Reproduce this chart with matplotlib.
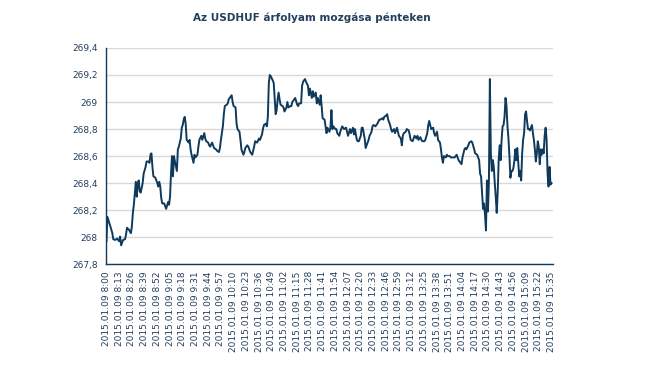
import matplotlib
matplotlib.use("Agg")
import matplotlib.pyplot as plt

# minutes after 8:00 and USDHUF rate
minutes = [0, 1, 4, 6, 7, 9, 11, 13, 14, 15, 17, 19, 20, 21, 23, 25, 26, 27, 28, 29,
           30, 31, 32, 33, 34, 35, 37, 38, 40, 41, 43, 44, 45, 46, 47, 48, 50, 52, 53, 54,
           55, 56, 57, 59, 60, 61, 63, 64, 65, 66, 67, 68, 69, 70, 72, 73, 74, 76, 77, 78,
           79, 80, 81, 82, 84, 85, 86, 87, 89, 90, 91, 93, 94, 95, 97, 98, 100, 101, 102, 104,
           105, 106, 108, 109, 110, 112, 113, 115, 116, 117, 119, 120, 121, 123, 124, 125, 127, 128, 129, 130,
           132, 133, 134, 136, 137, 138, 140, 141, 142, 144, 145, 147, 149, 151, 152, 154, 156, 157, 159, 160,
           161, 163, 164, 165, 166, 167, 168, 170, 171, 172, 173, 174, 175, 176, 177, 178, 180, 181, 182, 184,
           185, 186, 188, 189, 190, 192, 193, 195, 196, 197, 199, 200, 201, 203, 204, 206, 207, 208, 210, 211,
           212, 214, 215, 216, 218, 219, 220, 221, 223, 224, 225, 226, 228, 229, 230, 231, 232, 234, 235, 236,
           238, 239, 241, 242, 243, 245, 246, 247, 249, 250, 252, 253, 254, 256, 257, 258, 260, 261, 262, 264,
           265, 267, 268, 269, 271, 272, 273, 275, 276, 277, 279, 280, 282, 283, 284, 286, 287, 288, 290, 291,
           292, 294, 295, 297, 299, 301, 302, 303, 304, 306, 307, 309, 310, 311, 313, 314, 315, 317, 318, 319,
           321, 322, 323, 325, 326, 328, 329, 330, 331, 332, 334, 335, 336, 338, 339, 341, 342, 343, 344, 345,
           347, 348, 349, 351, 352, 353, 355, 356, 358, 359, 360, 362, 363, 364, 366, 367, 368, 370, 371, 373,
           374, 376, 377, 379, 381, 382, 383, 384, 385, 386, 387, 388, 389, 390, 391, 392, 393, 394, 395, 396,
           397, 398, 399, 400, 401, 402, 403, 404, 405, 406, 407, 408, 409, 410, 411, 412, 413, 414, 415, 416,
           417, 418, 419, 420, 421, 422, 423, 424, 425, 426, 427, 428, 429, 430, 431, 432, 433, 434, 435, 436,
           437, 438, 439, 440, 441, 442, 443, 444, 445, 446, 447, 448, 449, 450, 451, 452, 453, 454, 455]
rate = [267.97, 268.15, 268.08, 268.03, 267.985, 267.98, 267.99, 267.97, 268.005, 267.94,
        267.98, 267.985, 268.02, 268.07, 268.055, 268.03, 268.08, 268.18, 268.24, 268.33,
        268.41, 268.30, 268.40, 268.42, 268.34, 268.33, 268.40, 268.47, 268.52, 268.56,
        268.56, 268.55, 268.61, 268.62, 268.52, 268.45, 268.44, 268.40, 268.375, 268.41,
        268.375, 268.29, 268.25, 268.25, 268.23, 268.21, 268.26, 268.24, 268.30, 268.47,
        268.60, 268.45, 268.60, 268.56, 268.49, 268.65, 268.67, 268.73, 268.81, 268.83,
        268.87, 268.89, 268.84, 268.72, 268.70, 268.72, 268.65, 268.61, 268.55, 268.61,
        268.59, 268.61, 268.67, 268.72, 268.75, 268.72, 268.77, 268.73, 268.71, 268.70,
        268.68, 268.67, 268.70, 268.68, 268.66, 268.65, 268.64, 268.63, 268.66, 268.72,
        268.82, 268.91, 268.97, 268.98, 268.99, 269.02, 269.04, 269.05, 269.00, 268.97,
        268.96, 268.84, 268.80, 268.78, 268.72, 268.65, 268.61, 268.63, 268.66, 268.68,
        268.67, 268.63, 268.61, 268.67, 268.71, 268.70, 268.73, 268.72, 268.76, 268.80,
        268.83, 268.84, 268.82, 268.89, 269.14, 269.20, 269.19, 269.16, 269.14, 269.02,
        268.91, 268.94, 269.02, 269.07, 269.02, 268.98, 268.97, 268.96, 268.93, 268.96,
        269.00, 268.96, 268.97, 268.97, 269.00, 269.02, 269.03, 268.98, 268.97, 268.99,
        268.99, 269.12, 269.15, 269.17, 269.15, 269.12, 269.05, 269.10, 269.03, 269.08,
        269.04, 269.07, 268.99, 269.03, 268.98, 269.05, 268.97, 268.88, 268.87, 268.82,
        268.77, 268.81, 268.78, 268.81, 268.94, 268.80, 268.82, 268.80, 268.80, 268.77,
        268.75, 268.78, 268.82, 268.81, 268.80, 268.81, 268.78, 268.75, 268.80, 268.77,
        268.81, 268.76, 268.80, 268.72, 268.71, 268.71, 268.75, 268.81, 268.81, 268.73,
        268.66, 268.70, 268.72, 268.75, 268.78, 268.82, 268.83, 268.82, 268.83, 268.84,
        268.87, 268.87, 268.88, 268.87, 268.89, 268.90, 268.91, 268.87, 268.83, 268.80,
        268.78, 268.80, 268.77, 268.81, 268.75, 268.73, 268.68, 268.75, 268.77, 268.78,
        268.80, 268.79, 268.76, 268.72, 268.71, 268.73, 268.75, 268.73, 268.75, 268.72,
        268.74, 268.72, 268.71, 268.71, 268.72, 268.77, 268.83, 268.86, 268.83, 268.80,
        268.81, 268.77, 268.75, 268.78, 268.72, 268.70, 268.65, 268.59, 268.55, 268.60,
        268.59, 268.61, 268.60, 268.60, 268.59, 268.59, 268.59, 268.59, 268.61, 268.59,
        268.57, 268.55, 268.54, 268.59, 268.65, 268.66, 268.65, 268.68, 268.70, 268.71,
        268.70, 268.65, 268.62, 268.61, 268.57, 268.47, 268.45, 268.33, 268.21, 268.25,
        268.17, 268.05, 268.42, 268.19, 268.40, 269.17, 268.62, 268.49, 268.57, 268.52,
        268.40, 268.30, 268.18, 268.33, 268.57, 268.68, 268.57, 268.72, 268.82, 268.83,
        268.89, 269.03, 268.97, 268.82, 268.73, 268.60, 268.44, 268.49, 268.49, 268.51,
        268.56, 268.65, 268.57, 268.66, 268.56, 268.45, 268.49, 268.42, 268.62, 268.72,
        268.77, 268.91, 268.93, 268.86, 268.80, 268.80, 268.79, 268.81, 268.83, 268.77,
        268.72, 268.65, 268.56, 268.62, 268.71, 268.67, 268.54, 268.65, 268.61, 268.65,
        268.62, 268.75, 268.81, 268.72, 268.47, 268.375, 268.52, 268.39, 268.40]

# tick labels every 13 minutes
tick_pos = list(range(0, 456, 13))
tick_labels = ["2015.01.09 %d:%02d" % (8 + (m // 60), m % 60) for m in tick_pos]
y_ticks = [267.8, 268.0, 268.2, 268.4, 268.6, 268.8, 269.0, 269.2, 269.4]
y_labels = ["267,8", "268", "268,2", "268,4", "268,6", "268,8", "269", "269,2", "269,4"]

navy = "#0f3a5c"
text_col = "#243f5c"

fig = plt.figure(figsize=(6.45, 3.66), dpi=100)
ax = fig.add_axes([0.1643, 0.278, 0.6930, 0.591])

ax.plot(minutes, rate, color=navy, linewidth=1.4, solid_joinstyle="round")

ax.set_xlim(-0.5, 456.5)
ax.set_ylim(267.8, 269.4)
ax.set_yticks(y_ticks)
ax.set_yticklabels(y_labels)
ax.set_xticks(tick_pos)
ax.set_xticklabels(tick_labels, rotation=90)
ax.tick_params(axis="both", length=0, labelsize=6.5, labelcolor=text_col)
ax.tick_params(axis="y", pad=6)
ax.tick_params(axis="x", pad=5)

ax.grid(axis="y", color="#d9d9d9", linewidth=1)
ax.set_axisbelow(True)
for s in ["top", "right"]:
    ax.spines[s].set_visible(False)
ax.spines["left"].set_color(navy)
ax.spines["bottom"].set_color(navy)
ax.spines["left"].set_linewidth(1)
ax.spines["bottom"].set_linewidth(1)

fig.text(0.484, 0.951, "Az USDHUF árfolyam mozgása pénteken", ha="center", va="center",
         fontsize=7.5, fontweight="bold", color=text_col)

plt.savefig("out.png", dpi=100)
